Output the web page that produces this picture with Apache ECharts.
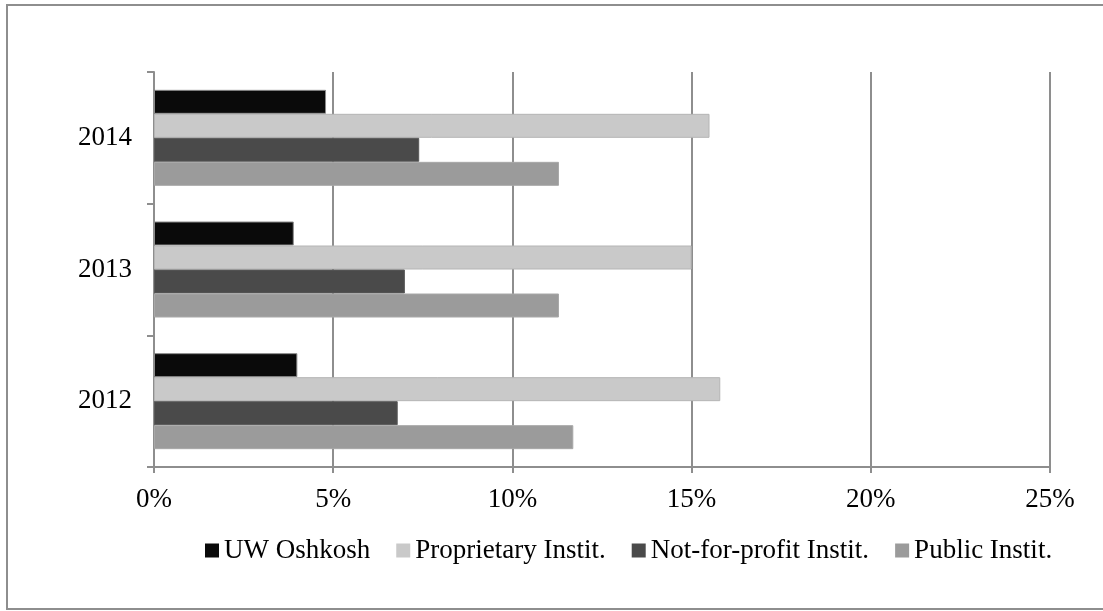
<!DOCTYPE html>
<html>
<head>
<meta charset="utf-8">
<script src="https://cdn.jsdelivr.net/npm/echarts@6/dist/echarts.min.js"></script>
<style>
  html, body { margin: 0; padding: 0; background: #fff; }
  #chart { width: 1103px; height: 611px; }
</style>
</head>
<body>
<div id="chart"></div>
<script>
// Years shown on the category axis (bottom to top)
const years = ['2012', '2013', '2014'];

// Share of students (%) per institution type, one value per year
const uwOshkosh = [4.0, 3.9, 4.8];
const proprietary = [15.8, 15.0, 15.5];
const notForProfit = [6.8, 7.0, 7.4];
const publicInstit = [11.7, 11.3, 11.3];

const seriesNames = ['UW Oshkosh', 'Proprietary Instit.', 'Not-for-profit Instit.', 'Public Instit.'];
const xTicks = [0, 5, 10, 15, 20, 25];

const FONT = 'Liberation Serif';
const FONT_SIZE = 27;
const GRID_GRAY = '#8e8e8e';

const chart = echarts.init(document.getElementById('chart'));

function barSeries(name, data, color, border) {
  return {
    name: name,
    type: 'bar',
    data: data,
    barWidth: 24,
    barGap: '0%',
    itemStyle: { color: color, borderColor: border, borderWidth: 1 },
    emphasis: { disabled: true }
  };
}

chart.setOption({
  animation: false,
  backgroundColor: '#fff',
  graphic: [{
    type: 'rect',
    shape: { x: 7, y: 5, width: 1110, height: 604 },
    style: { fill: 'none', stroke: GRID_GRAY, lineWidth: 2 },
    z: 100
  }],
  grid: { left: 154, right: 53, top: 72, bottom: 144, containLabel: false },
  legend: {
    data: seriesNames,
    left: 200,
    top: 532,
    itemWidth: 14,
    itemHeight: 14,
    itemGap: 26,
    icon: 'rect',
    itemStyle: { borderWidth: 0 },
    textStyle: { fontFamily: FONT, fontSize: FONT_SIZE, color: '#000' }
  },
  xAxis: {
    type: 'value',
    min: 0,
    max: 25,
    interval: 5,
    axisLine: { show: true, lineStyle: { color: GRID_GRAY, width: 2 } },
    axisTick: { show: true, length: 6, lineStyle: { color: GRID_GRAY, width: 2 } },
    splitLine: { show: true, lineStyle: { color: GRID_GRAY, width: 2 } },
    axisLabel: {
      fontFamily: FONT, fontSize: FONT_SIZE, color: '#000', margin: 19,
      formatter: function (v) { return xTicks.indexOf(v) >= 0 ? v + '%' : ''; }
    }
  },
  yAxis: {
    type: 'category',
    data: years,
    axisLine: { show: true, lineStyle: { color: GRID_GRAY, width: 2 } },
    axisTick: { show: true, length: 7, lineStyle: { color: GRID_GRAY, width: 2 } },
    axisLabel: { fontFamily: FONT, fontSize: FONT_SIZE, color: '#000', margin: 22 }
  },
  series: [
    barSeries(seriesNames[0], uwOshkosh, '#0a0a0a', '#8a8a8a'),
    barSeries(seriesNames[1], proprietary, '#c9c9c9', '#b5b5b5'),
    barSeries(seriesNames[2], notForProfit, '#4a4a4a', '#5a5a5a'),
    barSeries(seriesNames[3], publicInstit, '#9b9b9b', '#a8a8a8')
  ]
});
</script>
</body>
</html>
